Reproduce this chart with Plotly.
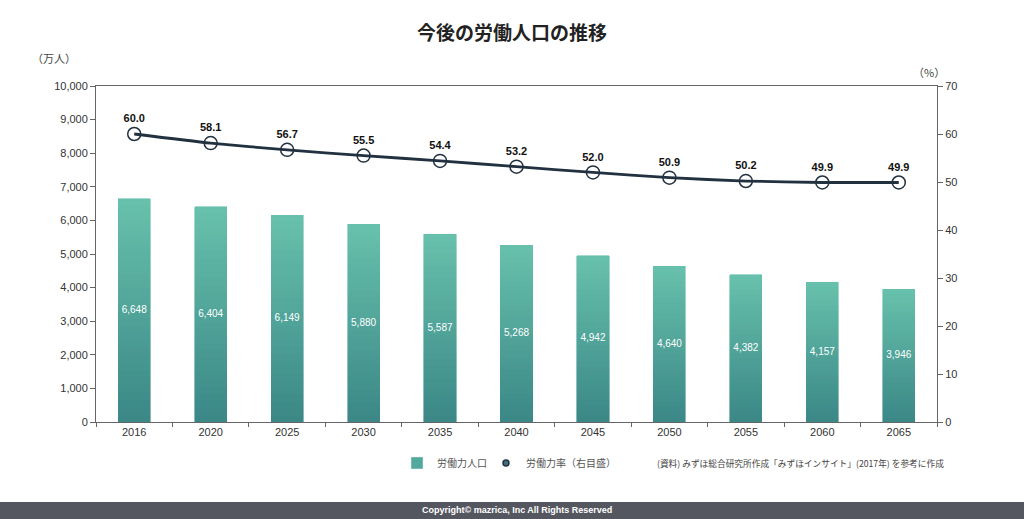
import plotly.graph_objects as go

years = ["2016", "2020", "2025", "2030", "2035", "2040", "2045", "2050", "2055", "2060", "2065"]
labor_pop = [6648, 6404, 6149, 5880, 5587, 5268, 4942, 4640, 4382, 4157, 3946]
labor_rate = [60.0, 58.1, 56.7, 55.5, 54.4, 53.2, 52.0, 50.9, 50.2, 49.9, 49.9]

FONT = "Liberation Sans, Arial, Noto Sans CJK JP, sans-serif"
JP = "Noto Sans CJK JP, sans-serif"

top_rgb = (0x67, 0xC0, 0xAB)
bot_rgb = (0x3B, 0x88, 0x87)
N = 30

fig = go.Figure()

for k in range(N):
    t = k / (N - 1)
    c = tuple(int(round(bot_rgb[i] + (top_rgb[i] - bot_rgb[i]) * t)) for i in range(3))
    col = "rgb(%d,%d,%d)" % c
    fig.add_trace(go.Bar(
        x=years, y=[v / N for v in labor_pop],
        marker=dict(color=col, line=dict(color=col, width=0.6)),
        showlegend=False, hoverinfo="skip", yaxis="y",
    ))

# bar value labels
fig.add_trace(go.Scatter(
    x=years, y=[v / 2 for v in labor_pop], mode="text",
    text=[f"{v:,}" for v in labor_pop],
    textfont=dict(family=FONT, size=10, color="white"),
    showlegend=False, hoverinfo="skip", yaxis="y",
))

# line
fig.add_trace(go.Scatter(
    x=years, y=labor_rate, mode="lines+markers+text",
    line=dict(color="#22313f", width=2.8, shape="spline", smoothing=0.6),
    marker=dict(symbol="circle-open", size=13, color="#22313f", line=dict(width=1.5)),
    text=[f"{v:.1f}" for v in labor_rate], textposition="top center",
    textfont=dict(family=FONT, size=11, color="#111111", weight="bold"),
    showlegend=False, yaxis="y2",
))

# legend entries
fig.add_trace(go.Bar(x=[None], y=[None], name="労働力人口", legend="legend",
                     marker=dict(color="#52a89c"), yaxis="y"))
fig.add_trace(go.Scatter(x=[None], y=[None], name="労働力率（右目盛）", mode="markers",
                         legend="legend2",
                         marker=dict(symbol="circle", size=6, color="#3f6f78",
                                     line=dict(color="#22313f", width=1.5)),
                         yaxis="y2"))

leg_common = dict(orientation="h", xanchor="left", y=-0.122, yanchor="middle",
                  font=dict(family=JP, size=10, color="#555555"),
                  itemwidth=30, bgcolor="rgba(0,0,0,0)")

fig.update_layout(
    width=1024, height=519,
    margin=dict(l=96, r=87, t=86, b=97),
    paper_bgcolor="white", plot_bgcolor="white",
    barmode="stack", bargap=0.58,
    font=dict(family=FONT, size=11, color="#333333"),
    title=dict(text="今後の労働人口の推移", x=0.5, xanchor="center",
               y=1 - 33 / 519, yanchor="middle", yref="container",
               font=dict(family=JP, size=19, color="#222222", weight="bold")),
    xaxis=dict(showline=True, linecolor="#666666", linewidth=1, mirror=True,
               range=[-0.5, len(years) - 0.5],
               ticks="outside", tickson="boundaries", ticklen=4, tickcolor="#666666",
               showgrid=False, tickfont=dict(size=11, color="#333333")),
    yaxis=dict(range=[0, 10000], dtick=1000, tickformat=",", showgrid=False,
               showline=True, linecolor="#666666", ticks="outside", ticklen=5,
               tickcolor="#666666", zeroline=False, tickfont=dict(size=11, color="#333333")),
    yaxis2=dict(range=[0, 70], dtick=10, overlaying="y", side="right", showgrid=False,
                showline=True, linecolor="#666666", ticks="outside", ticklen=5,
                tickcolor="#666666", zeroline=False, tickfont=dict(size=11, color="#333333")),
    legend=dict(x=(397 - 96) / 841, **leg_common),
    legend2=dict(x=(486 - 96) / 841, **leg_common),
    annotations=[
        dict(text="（万人）", xref="paper", yref="paper", x=(30 - 96) / 841, y=1 + 28 / 336,
             xanchor="left", yanchor="middle", showarrow=False,
             font=dict(family=JP, size=11, color="#444444")),
        dict(text="（%）", xref="paper", yref="paper", x=(929 - 96) / 841, y=1 + 14 / 336,
             xanchor="center", yanchor="middle", showarrow=False,
             font=dict(family=JP, size=11, color="#444444")),
        dict(text="(資料) みずほ総合研究所作成「みずほインサイト」(2017年) を参考に作成",
             xref="paper", yref="paper", x=(655 - 96) / 841, y=-41 / 336,
             xanchor="left", yanchor="middle", showarrow=False,
             font=dict(family=JP, size=8.7, color="#444444")),
        dict(text="<b>Copyright© mazrica, Inc All Rights Reserved</b>",
             xref="paper", yref="paper", x=(517 - 96) / 841, y=(422 - 510) / 336,
             xanchor="center", yanchor="middle", showarrow=False,
             font=dict(family=FONT, size=9, color="white")),
    ],
    shapes=[
        dict(type="rect", xref="paper", yref="paper", x0=-96 / 841, x1=(1024 - 96) / 841,
             y0=(422 - 502) / 336, y1=(422 - 525) / 336, fillcolor="#54575f",
             line=dict(width=0), layer="below"),
    ],
)

fig.write_html("out.html", config={"displayModeBar": False},
               post_script="document.body.style.margin='0';document.body.style.overflow='hidden';")
